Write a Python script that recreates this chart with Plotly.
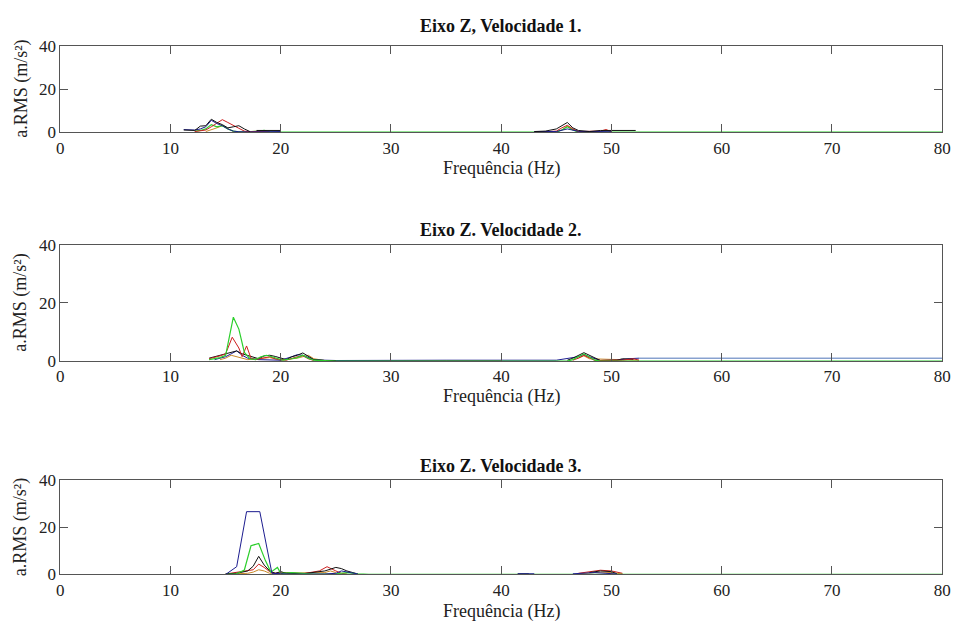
import plotly.graph_objects as go

# ---- chart data -------------------------------------------------------
titles = ["Eixo Z, Velocidade 1.", "Eixo Z. Velocidade 2.", "Eixo Z. Velocidade 3."]
x_label = "Frequência (Hz)"
y_label = "a.RMS (m/s²)"
x_ticks = [0, 10, 20, 30, 40, 50, 60, 70, 80]
y_ticks = [0, 20, 40]

# Velocidade 1
v1_black_f = [11.2, 11.7, 12.2, 12.7, 13.2, 13.7, 14.2, 14.7, 15.2, 15.7, 16.2, 16.7, 17.2, None,
              17.8, 20.0, None, 43, 44, 45, 45.5, 46, 46.5, 47, 48, 49, 50, 52.2]
v1_black_a = [1.0, 1.0, 0.8, 2.8, 3.0, 6.0, 4.5, 3.5, 2.0, 2.5, 3.0, 1.5, 0.3, None,
              0.8, 0.8, None, 0.3, 0.5, 1.5, 3.0, 4.5, 2.0, 0.8, 0.3, 0.8, 0.8, 0.8]
v1_blue_f = [11.2, 11.7, 12.2, 12.7, 13.2, 13.7, 14.2, 14.7, 15.2, 15.7, 16.2, 17, 18, 20, None,
             43, 45, 46, 47, 50]
v1_blue_a = [1.2, 1.0, 1.0, 1.5, 2.5, 5.5, 4.0, 3.0, 1.5, 0.5, 0.2, 0.1, 0.2, 0.3, None,
             0.3, 0.3, 1.5, 0.4, 0.2]
v1_red_f = [12.2, 12.7, 13.2, 13.7, 14.2, 14.7, 15.2, 15.7, 16.2, 16.7, 17.2, 18, 19, None,
            44, 45, 45.5, 46, 46.5, 47, 49, 49.5, 50]
v1_red_a = [0.3, 0.5, 1.0, 2.5, 4.0, 5.8, 4.5, 3.0, 1.8, 0.5, 0.2, 0.3, 0.1, None,
            0.2, 0.5, 2.0, 3.2, 1.5, 0.3, 0.5, 1.2, 0.3]
v1_green_f = [12.2, 12.7, 13.2, 13.7, 14.2, 14.7, 15.2, 15.7, 16.2, 17, 18, 18.5, 19, 20,
              45, 45.5, 46, 46.5, 47, 80]
v1_green_a = [0.5, 0.8, 1.5, 3.5, 2.5, 3.0, 1.5, 0.5, 0.2, 0.1, 0.5, 0.8, 0.2, 0.0,
              0.0, 1.0, 2.5, 1.0, 0.0, 0.0]
v1_orange_f = [13.2, 13.7, 14.2, 14.7, 15.2, 15.7, 16.5, 18, 19, None,
               45, 45.5, 46, 46.5, 47, 49, 49.5, 50]
v1_orange_a = [0.3, 1.0, 2.0, 3.0, 1.5, 0.3, 0.1, 0.5, 0.1, None,
               0.2, 1.0, 2.8, 1.2, 0.2, 0.3, 1.0, 0.2]

# Velocidade 2
v2_black_f = [13.5, 14, 14.5, 15, 15.5, 16, 16.5, 17, 17.5, 18, 18.5, 19, 19.5, 20, 20.5, 21, 21.5,
              22, 22.5, 23, 24, 25, None, 46, 46.5, 47.5, 48.5, 49, 50.5, 51, 52]
v2_black_a = [1.0, 1.5, 2.0, 2.5, 3.0, 3.5, 2.5, 2.0, 1.5, 0.8, 1.8, 2.0, 1.6, 1.0, 0.5, 1.5, 2.0,
              2.8, 1.5, 0.5, 0.2, 0.1, None, 0.3, 1.0, 2.9, 1.0, 0.2, 0.3, 0.8, 0.6]
v2_blue_f = [14, 14.5, 15, 15.5, 16, 16.5, 17, 18, 19, 20, 21, 21.5, 22, 22.5, 23, 24, 25,
             35, 45, 47, 47.5, 48, 49, 50.5, 51.5, 52.5]
v2_blue_a = [0.5, 1.0, 1.5, 2.5, 3.5, 2.0, 1.0, 0.5, 0.3, 0.3, 1.5, 2.2, 2.0, 1.2, 0.5, 0.3, 0.2,
             0.3, 0.3, 1.5, 2.3, 1.5, 0.2, 0.3, 0.8, 1.0]
v2_steel_f = [52.5, 80]
v2_steel_a = [1.0, 1.0]
v2_red_f = [13.5, 14, 14.5, 15, 15.6, 16.2, 16.5, 16.9, 17.3, 17.7, 18.5, 19, 19.5, 20.5, 21.5,
            22, 22.5, 23, None, 46.5, 47, 47.5, 48, 48.5, 51, 52, 52.5]
v2_red_a = [0.8, 1.2, 1.8, 2.5, 8.2, 4.5, 1.5, 5.2, 1.0, 0.5, 1.0, 1.5, 0.8, 0.3, 1.5,
            1.8, 0.8, 0.2, None, 0.3, 1.0, 2.0, 1.0, 0.2, 0.3, 0.8, 0.3]
v2_green_f = [13.5, 14, 14.5, 15, 15.3, 15.7, 16.2, 16.7, 17.2, 17.7, 18.2, 18.7, 19.2, 19.7, 20.2,
              21, 21.5, 22, 22.5, 23, 24, 25, 46, 46.5, 47.5, 48.5, 49, 80]
v2_green_a = [0.5, 0.8, 1.2, 2.0, 8.0, 15.1, 11.0, 3.0, 0.8, 0.5, 1.5, 2.0, 1.5, 1.0, 0.3,
              0.8, 1.2, 2.0, 1.0, 0.3, 0.1, 0.0, 0.0, 0.5, 2.5, 0.3, 0.0, 0.0]
v2_orange_f = [14.5, 15, 15.5, 16, 17, 18.5, 19, 20, 21.5, 22, 22.5, 23, 24, 35, 40, None,
               47, 47.5, 48, 51.5, 52.5]
v2_orange_a = [0.5, 1.0, 2.0, 1.5, 0.5, 1.0, 1.2, 0.3, 1.0, 1.5, 2.0, 0.8, 0.2, 0.2, 0.2, None,
               1.0, 1.8, 0.8, 0.5, 0.3]

# Velocidade 3
v3_blue_f = [15, 16, 16.9, 18.1, 19.2, 20, 21, 24, 25, 25.5, 26, 27, None,
             41.5, 43, None, 46.5, 47.5, 48.5, 49.5, 50.5]
v3_blue_a = [0.0, 3.3, 26.7, 26.7, 0.5, 0.2, 0.1, 0.2, 0.5, 1.5, 1.0, 0.2, None,
             0.3, 0.3, None, 0.3, 0.5, 0.8, 0.5, 0.2]
v3_green_f = [15, 16, 16.7, 17.3, 18.0, 18.6, 19.1, 19.7, 20, 21, 22, 23, 25, 26, 27, 28, 80]
v3_green_a = [0.0, 0.3, 1.9, 12.2, 13.2, 6.0, 1.0, 3.0, 0.5, 0.8, 0.5, 0.2, 0.3, 0.8, 0.3, 0.0, 0.0]
v3_black_f = [15, 16, 17, 17.5, 18, 18.5, 19, 19.5, 20, 20.5, 22, 24, 25, 25.5, 26, 27, None,
              41.5, 42.5, None, 48, 49, 50, 50.5]
v3_black_a = [0.3, 0.5, 1.5, 3.5, 7.7, 4.0, 1.5, 0.5, 1.2, 0.5, 0.3, 1.5, 3.0, 2.5, 1.5, 0.2, None,
              0.3, 0.3, None, 0.8, 1.5, 1.2, 0.3]
v3_red_f = [15, 16, 17, 17.5, 18, 18.5, 19, 19.5, 20.5, 22, 23.5, 24.2, 25, 25.5, 26, None,
            47, 48, 49, 50, 51]
v3_red_a = [0.2, 1.0, 1.8, 2.0, 4.4, 3.0, 1.2, 0.5, 0.8, 0.3, 1.5, 3.3, 1.5, 0.5, 0.2, None,
            0.5, 1.0, 1.8, 1.5, 0.5]
v3_orange_f = [16, 17, 17.5, 18, 18.5, 19, 24, 24.5, 25, None, 47, 49, 50, 51]
v3_orange_a = [0.3, 0.5, 1.0, 2.0, 1.5, 0.5, 0.8, 1.5, 0.8, None, 0.3, 1.0, 0.8, 0.2]

# ---- styling ----------------------------------------------------------
colors = {
    "black": "#111111",
    "blue": "#1c1c8f",
    "steel": "#4f74b8",
    "red": "#cc1f1f",
    "green": "#2ccf2c",
    "orange": "#c98a2a",
}
widths = {"green": 1.2}
FONT = "Liberation Serif, Times New Roman, serif"
W, H = 960, 632
plot_left, plot_right = 57, 950
# pixel rows (top, bottom) of each panel
panels = [(38, 127), (243, 363), (486, 583)]
title_rows = [18, 228, 471]
xlabel_rows = [164, 399, 621]

panel_series = [
    [("orange", v1_orange_f, v1_orange_a), ("green", v1_green_f, v1_green_a),
     ("red", v1_red_f, v1_red_a), ("blue", v1_blue_f, v1_blue_a),
     ("black", v1_black_f, v1_black_a)],
    [("steel", v2_steel_f, v2_steel_a), ("orange", v2_orange_f, v2_orange_a),
     ("blue", v2_blue_f, v2_blue_a), ("black", v2_black_f, v2_black_a),
     ("red", v2_red_f, v2_red_a), ("green", v2_green_f, v2_green_a)],
    [("orange", v3_orange_f, v3_orange_a), ("red", v3_red_f, v3_red_a),
     ("black", v3_black_f, v3_black_a), ("green", v3_green_f, v3_green_a),
     ("blue", v3_blue_f, v3_blue_a)],
]

fig = go.Figure()
layout = dict(
    width=W, height=H, margin=dict(l=0, r=0, t=0, b=0),
    paper_bgcolor="white", plot_bgcolor="white", showlegend=False,
    font=dict(family=FONT, color="#222222"),
)
annotations = []
axis_common = dict(
    showgrid=False, zeroline=False, showline=True, linecolor="#555555", linewidth=1,
    mirror="ticks", ticks="inside", ticklen=8, tickcolor="#555555",
    tickfont=dict(family=FONT, size=17, color="#222222"),
)

for i, series in enumerate(panel_series):
    n = "" if i == 0 else str(i + 1)
    top, bottom = panels[i]
    for name, fx, ay in series:
        fig.add_trace(go.Scatter(
            x=fx, y=ay, mode="lines", xaxis="x" + n, yaxis="y" + n,
            line=dict(color=colors[name], width=widths.get(name, 1)), connectgaps=False,
            hoverinfo="skip",
        ))
    layout["xaxis" + n] = dict(
        axis_common, domain=[plot_left / W, plot_right / W], anchor="y" + n,
        range=[0, 80], tickvals=x_ticks, ticktext=[str(v) for v in x_ticks],
    )
    layout["yaxis" + n] = dict(
        axis_common, domain=[1 - bottom / H, 1 - top / H], anchor="x" + n,
        range=[0, 40], tickvals=y_ticks, ticktext=[str(v) for v in y_ticks],
    )
    center_x = (plot_left + plot_right) / 2 / W
    annotations.append(dict(
        text="<b>" + titles[i] + "</b>", x=center_x, y=1 - title_rows[i] / H,
        xref="paper", yref="paper", showarrow=False, xanchor="center", yanchor="middle",
        font=dict(family=FONT, size=18, color="#111111"),
    ))
    annotations.append(dict(
        text=x_label, x=center_x, y=1 - xlabel_rows[i] / H,
        xref="paper", yref="paper", showarrow=False, xanchor="center", yanchor="middle",
        font=dict(family=FONT, size=18, color="#222222"),
    ))
    annotations.append(dict(
        text=y_label, x=17 / W, y=1 - (top + bottom) / 2 / H, textangle=-90,
        xref="paper", yref="paper", showarrow=False, xanchor="center", yanchor="middle",
        font=dict(family=FONT, size=18, color="#222222"),
    ))

layout["annotations"] = annotations
fig.update_layout(**layout)
fig.write_html("out.html")
